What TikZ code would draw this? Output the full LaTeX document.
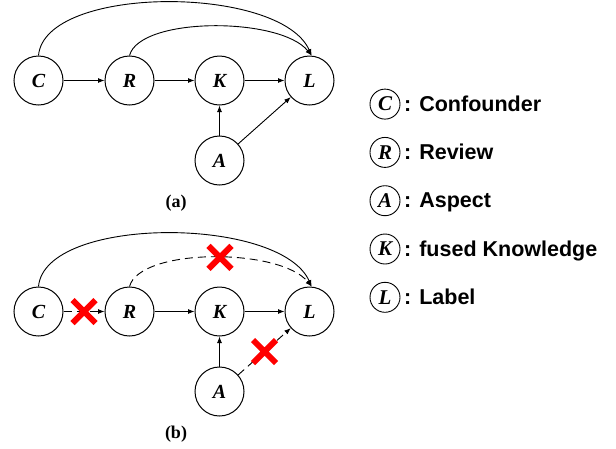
\documentclass[tikz,border=0pt]{standalone}
\usepackage{fontspec}
\setmainfont{Liberation Serif}
\newfontfamily\legenda{Liberation Sans}
\usetikzlibrary{arrows.meta,shapes.misc}

\tikzset{
  var/.style={circle, draw, line width=1pt, minimum size=49pt, inner sep=0pt,
    font=\fontsize{20}{20}\selectfont\bfseries\itshape},
  varleg/.style={circle, draw, line width=0.9pt, minimum size=30pt, inner sep=0pt,
    font=\fontsize{21}{21}\selectfont\bfseries\itshape},
  freccia/.style={-{Latex[length=6.5pt,width=5pt]}, line width=0.9pt},
  tratto/.style={dash pattern=on 8pt off 5pt},
  croce/.style={cross out, draw=red, line width=6pt, minimum size=17pt, inner sep=0pt},
  didascalia/.style={font=\fontsize{18}{18}\selectfont\bfseries},
}

\begin{document}
\begin{tikzpicture}[x=1pt, y=-1pt]
  \useasboundingbox (0,0) rectangle (616,448);
  % i due grafi: (a) in alto, (b) spostato di 231pt
  \foreach \dy/\p in {0/a, 231/b} {
    \node[var] (C\p) at (38.5, 80.5+\dy) {C};
    \node[var] (R\p) at (129.5, 80.5+\dy) {R};
    \node[var] (K\p) at (219.5, 80.5+\dy) {K};
    \node[var] (L\p) at (309.5, 80.5+\dy) {L};
    \node[var] (A\p) at (219.5, 160.5+\dy) {A};
    \draw[freccia] (R\p) -- (K\p);
    \draw[freccia] (K\p) -- (L\p);
    \draw[freccia] (A\p) -- (K\p);
    \draw[freccia] (C\p.north) .. controls +(6.5,-71) and +(-31.6,-71) .. (L\p.85);
    \node[didascalia] (cap\p) at (176, 203+\dy) {(\p)};
  }
  % grafo (a)
  \draw[freccia] (Ca) -- (Ra);
  \draw[freccia] (Ra.north) .. controls +(10.5,-39) and +(-31.6,-39) .. (La.85);
  \draw[freccia] (Aa) -- (La);
  % grafo (b): archi tagliati
  \draw[freccia, tratto] (Cb) -- (Rb) coordinate[pos=.5] (t1);
  \draw[freccia, tratto] (Rb.north) .. controls +(10.5,-39) and +(-31.6,-39) .. (Lb.85)
    coordinate[pos=.53] (t2);
  \draw[freccia, tratto] (Ab) -- (Lb) coordinate[pos=.5] (t3);
  \node[croce] (x1) at (t1) {};
  \node[croce] (x2) at (t2) {};
  \node[croce] (x3) at (t3) {};
  % legenda
  \foreach \v/\nome [count=\i] in {C/Confounder, R/Review, A/Aspect, K/fused Knowledge, L/Label} {
    \node[varleg] (leg\i) at (385, 55.8+48.3*\i) {\v};
    \node[anchor=base west, inner sep=0pt, font=\legenda\fontsize{21.5}{21.5}\selectfont\bfseries]
      (nome\i) at (404, 63+48.3*\i) {: \nome};
  }
\end{tikzpicture}
\end{document}
